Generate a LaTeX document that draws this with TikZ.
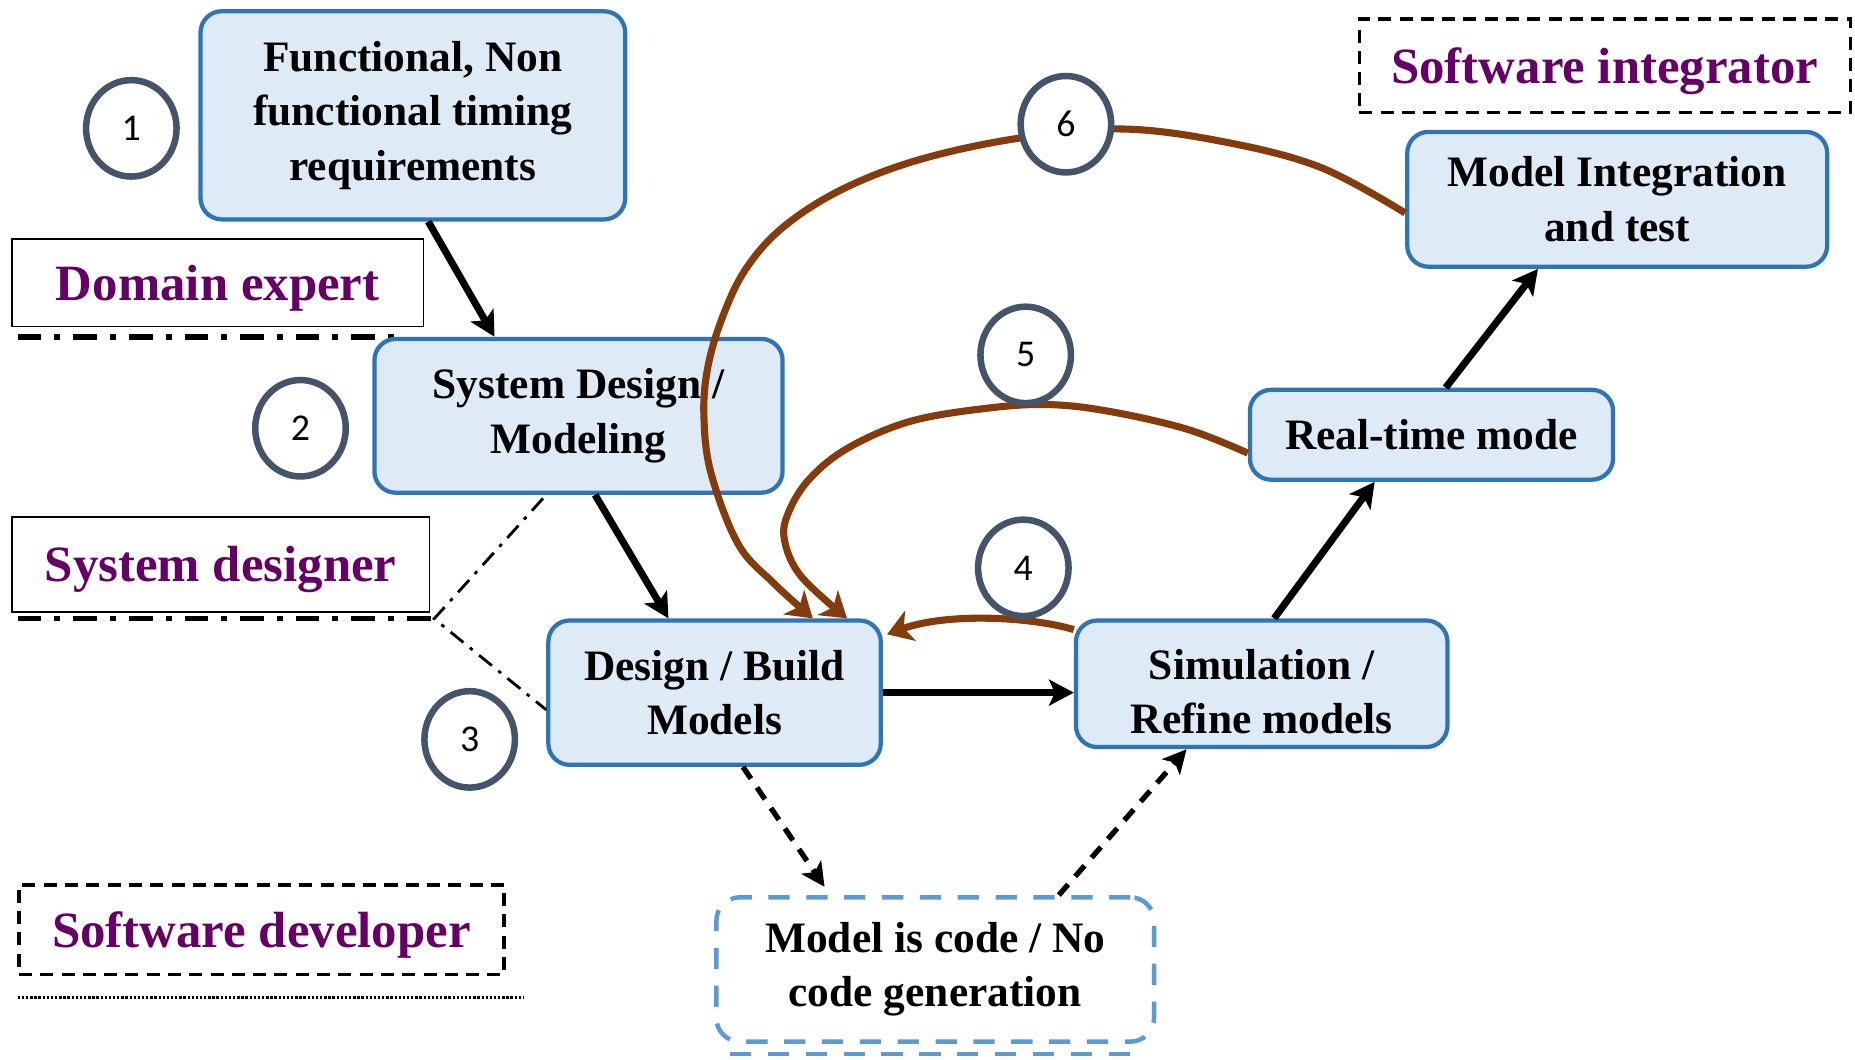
\documentclass[tikz,border=0pt]{standalone}
\usepackage{fontspec}
\setmainfont{Liberation Serif}
\newfontfamily\digitfont{Carlito}
\usetikzlibrary{arrows.meta,calc,shapes.geometric}
\definecolor{boxfill}{HTML}{DEEAF6}
\definecolor{boxline}{HTML}{2E75B6}
\definecolor{rolepurple}{HTML}{660066}
\definecolor{loopbrown}{HTML}{843C0C}
\definecolor{circline}{HTML}{44546A}
\definecolor{codeblue}{HTML}{5B9BD5}
\begin{document}
\begin{tikzpicture}[x=1pt,y=1pt,
  procbox/.style={draw=boxline, fill=boxfill, line width=3.6pt, rounded corners=18pt,
    align=center, inner sep=0pt, font=\fontsize{36.7}{46}\selectfont\bfseries},
  rolebox/.style={line width=1.6pt, inner sep=0pt, text depth=0pt,
    font=\fontsize{43}{50}\selectfont\bfseries, text=rolepurple},
  stepnum/.style={ellipse, draw=circline, line width=5.5pt, fill=white,
    minimum width=76.5pt, minimum height=81.5pt, inner sep=0pt,
    font=\digitfont\fontsize{32}{36}\selectfont},
  flow/.style={line width=6pt, -{Stealth[length=21pt,width=22pt,inset=5pt]}},
  codeflow/.style={line width=4.5pt, dash pattern=on 12pt off 9pt,
    -{Stealth[length=20pt,width=20pt,inset=5pt]}},
  loopline/.style={draw=loopbrown, line width=6pt,
    -{Stealth[length=21pt,width=27pt,inset=6pt]}},
  dashdotthick/.style={line width=4.5pt, dash pattern=on 20pt off 11pt on 5pt off 11pt},
  dashdotthin/.style={line width=2.4pt, dash pattern=on 14pt off 7pt on 3pt off 7pt},
]
\path[use as bounding box, fill=white] (0,0) rectangle (1568,896);

% separator lines
\draw[dashdotthick] (15,611) -- (333,611);
\draw[dashdotthick] (15,373) -- (366,373);
\draw[line width=2.4pt, dash pattern=on 2pt off 1.5pt] (15,53) -- (443,53);

% role labels
\node[rolebox, draw=black, minimum width=348pt, minimum height=74pt] (de) at (184,657) {Domain expert};
\node[rolebox, draw=black, minimum width=353pt, minimum height=80pt] (sd) at (186.5,419) {System designer};
\node[rolebox, draw=black, line width=2.8pt, dash pattern=on 11pt off 7pt,
  minimum width=415pt, minimum height=79pt] (si) at (1356.5,840.5) {Software integrator};
\node[rolebox, draw=black, line width=2.8pt, dash pattern=on 11pt off 7pt,
  minimum width=410pt, minimum height=76pt] (sw) at (221,110) {Software developer};

% process boxes
\node[procbox, minimum width=359pt, minimum height=176pt] (b1) at (349,798.5)
  {Functional, Non\\functional timing\\requirements};
\node[procbox, minimum width=345pt, minimum height=130pt] (b2) at (489,544.5)
  {System Design /\\Modeling};
\node[procbox, minimum width=281pt, minimum height=122pt] (b3) at (604,310.5)
  {Design / Build\\Models};
\node[procbox, minimum width=314pt, minimum height=107pt, text height=84pt, text depth=0pt]
  (b4) at (1066.5,318) {Simulation /\\Refine models};
\node[procbox, minimum width=307pt, minimum height=76pt] (b5) at (1210,528.5)
  {Real-time mode};
\node[procbox, minimum width=355pt, minimum height=114pt] (b6) at (1367,727.5)
  {Model Integration\\and test};
\node[procbox, draw=codeblue, fill=white, line width=3.8pt, dash pattern=on 18pt off 14pt,
  rounded corners=20pt, minimum width=370pt, minimum height=122pt] (m) at (790.5,76.5)
  {Model is code / No\\code generation};
\draw[codeblue, line width=3.8pt, dash pattern=on 18pt off 14pt] (617,5) -- (961,5);

% thin dash-dot boundary
\coordinate (p2) at ($(b2.south)+(-30,-3)$);
\coordinate (p3) at ($(b3.west)+(0,-14.5)$);
\draw[dashdotthin] (p2) -- (367,373) -- (p3);

% main flow
\draw[flow] ($(b1.south)+(13,0)$) -- ($(b2.north)+(-71,0)$);
\draw[flow] ($(b2.south)+(14,0)$) -- ($(b3.north)+(-39,0)$);
\draw[flow] (b3.east) -- (b3.east -| b4.west);
\draw[flow] ($(b4.north)+(10.5,0)$) -- ($(b5.south)+(-48,0)$);
\draw[flow] ($(b5.north)+(12,0)$) -- ($(b6.south)+(-67,0)$);
\draw[codeflow] ($(b3.south)+(24,0)$) -- ($(m.north)+(-93.5,7)$);
\draw[codeflow] ($(m.north)+(104.5,0)$) -- ($(b4.south)+(-63.5,0)$);

% feedback loops
\coordinate (s4) at ($(b4.north west)+(0,-9.5)$);
\coordinate (e4) at ($(b3.north east)+(3.5,-13.5)$);
\draw[loopline] (s4) .. controls (870,375) and (800,378) .. (e4);

\coordinate (s5) at ($(b5.west)+(0,-15.5)$);
\coordinate (e5) at ($(b3.north)+(112,0)$);
\draw[loopline] plot[smooth, tension=0.6] coordinates {(s5) (1004,533) (939,548) (887,554)
  (835,551) (770,540) (718,518) (685,492) (667,464) (663,440) (677,409) (e5)};

\coordinate (s6) at ($(b6.west)+(0,-11.5)$);
\coordinate (e6) at ($(b3.north)+(83,0)$);
\draw[loopline] plot[smooth, tension=0.6] coordinates {(s6) (1115,755) (1030,777) (946,787)
  (860,779) (777,761) (712,736) (662,704) (630,668) (610,626) (598,584) (595,544)
  (601,496) (624,436) (654,403) (e6)};

% step numbers
\node[stepnum] (c1) at (111,787.5) {1};
\node[stepnum] (c2) at (254,534) {2};
\node[stepnum] (c3) at (397,271) {3};
\node[stepnum] (c4) at (865,416) {4};
\node[stepnum] (c5) at (867,596) {5};
\node[stepnum] (c6) at (901,791) {6};
\end{tikzpicture}
\end{document}
